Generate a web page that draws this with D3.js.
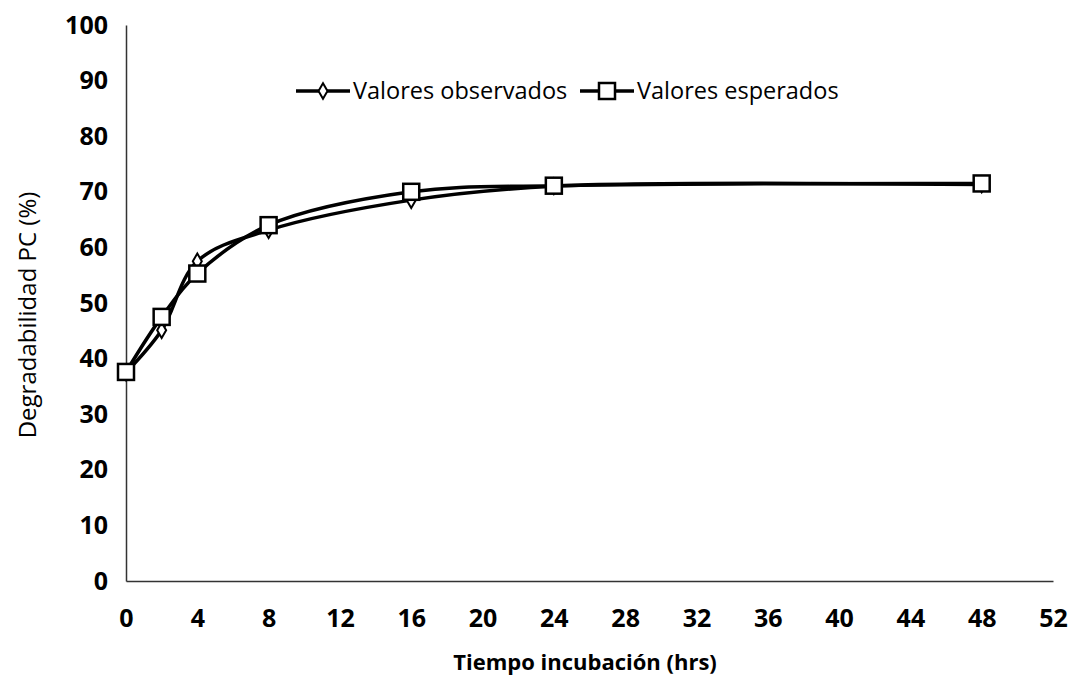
<html lang="es"><head>
<meta http-equiv="Content-Type" content="text/html; charset=UTF-8">
<title>Degradabilidad PC</title>
<script type="text/javascript" src="https://cdn.jsdelivr.net/npm/d3@7/dist/d3.min.js"></script>
<style type="text/css">
body { margin: 0; background: #fff; }
text { font-family: "Open Sans", Lato, sans-serif; fill: #000; }
</style>
</head>
<body>
<div id="chart"></div>
<script type="text/javascript">

// datos
var hours = [0, 2, 4, 8, 16, 24, 48];
var observados = [37.5, 45.1, 57.5, 63.1, 68.5, 71.0, 71.3];
var esperados = [37.6, 47.5, 55.3, 64.0, 70.0, 71.1, 71.5];
var xTicks = [0, 4, 8, 12, 16, 20, 24, 28, 32, 36, 40, 44, 48, 52];
var yTicks = [0, 10, 20, 30, 40, 50, 60, 70, 80, 90, 100];

var width = 1072;
var height = 682;

var svg = d3.select("#chart").append("svg")
        .attr("width", width)
        .attr("height", height);

var x = d3.scaleLinear().domain([0, 52]).range([126, 1053]);
var y = d3.scaleLinear().domain([0, 100]).range([581, 25]);

svg.append("g")
        .attr("transform", "translate(0," + y(0) + ")")
        .call(d3.axisBottom(x).tickValues(xTicks).tickSize(0).tickPadding(28));

svg.append("g")
        .attr("transform", "translate(" + x(0) + ",0)")
        .call(d3.axisLeft(y).tickValues(yTicks).tickSize(0).tickPadding(18));

svg.selectAll(".domain")
        .attr("stroke", "#333")
        .attr("stroke-width", 1.5);

svg.selectAll(".tick text")
        .attr("font-size", 25)
        .attr("font-weight", "bold")
        .attr("font-family", "'Open Sans', sans-serif");

// titulos de ejes
svg.append("text")
        .attr("x", 585)
        .attr("y", 670)
        .attr("text-anchor", "middle")
        .attr("font-size", 22)
        .attr("font-weight", "bold")
        .text("Tiempo incubación (hrs)");

svg.append("text")
        .attr("transform", "translate(36,315) rotate(-90)")
        .attr("text-anchor", "middle")
        .attr("font-size", 24)
        .text("Degradabilidad PC (%)");

var line = d3.line()
        .x(function (d) { return x(d[0]); })
        .y(function (d) { return y(d[1]); })
        .curve(d3.curveCatmullRom.alpha(0.5));

var obsData = hours.map(function (h, i) { return [h, observados[i]]; });
var espData = hours.map(function (h, i) { return [h, esperados[i]]; });

svg.append("path")
        .datum(espData)
        .attr("d", line)
        .attr("fill", "none")
        .attr("stroke", "#000")
        .attr("stroke-width", 3.5);

svg.append("path")
        .datum(obsData)
        .attr("d", line)
        .attr("fill", "none")
        .attr("stroke", "#000")
        .attr("stroke-width", 3.5);

var diamond = d3.symbol().type(d3.symbolDiamond).size(70);

svg.selectAll(".obs").data(obsData).enter().append("path")
        .attr("class", "obs")
        .attr("d", diamond)
        .attr("transform", function (d) { return "translate(" + x(d[0]) + "," + y(d[1]) + ")"; })
        .attr("fill", "#fff")
        .attr("stroke", "#000")
        .attr("stroke-width", 2);

svg.selectAll(".esp").data(espData).enter().append("rect")
        .attr("class", "esp")
        .attr("x", function (d) { return x(d[0]) - 8; })
        .attr("y", function (d) { return y(d[1]) - 8; })
        .attr("width", 16)
        .attr("height", 16)
        .attr("fill", "#fff")
        .attr("stroke", "#000")
        .attr("stroke-width", 2.5);

// leyenda
var legend = svg.append("g").attr("transform", "translate(0,91)");

legend.append("line")
        .attr("x1", 296).attr("x2", 350)
        .attr("stroke", "#000").attr("stroke-width", 3.5);
legend.append("path")
        .attr("d", diamond)
        .attr("transform", "translate(323,0)")
        .attr("fill", "#fff").attr("stroke", "#000").attr("stroke-width", 2);
legend.append("text")
        .attr("x", 353).attr("y", 0).attr("dy", "0.35em")
        .attr("font-size", 23.5)
        .text("Valores observados");

legend.append("line")
        .attr("x1", 580).attr("x2", 634)
        .attr("stroke", "#000").attr("stroke-width", 3.5);
legend.append("rect")
        .attr("x", 599).attr("y", -8).attr("width", 16).attr("height", 16)
        .attr("fill", "#fff").attr("stroke", "#000").attr("stroke-width", 2.5);
legend.append("text")
        .attr("x", 637).attr("y", 0).attr("dy", "0.35em")
        .attr("font-size", 23.5)
        .text("Valores esperados");

</script>
</body></html>
